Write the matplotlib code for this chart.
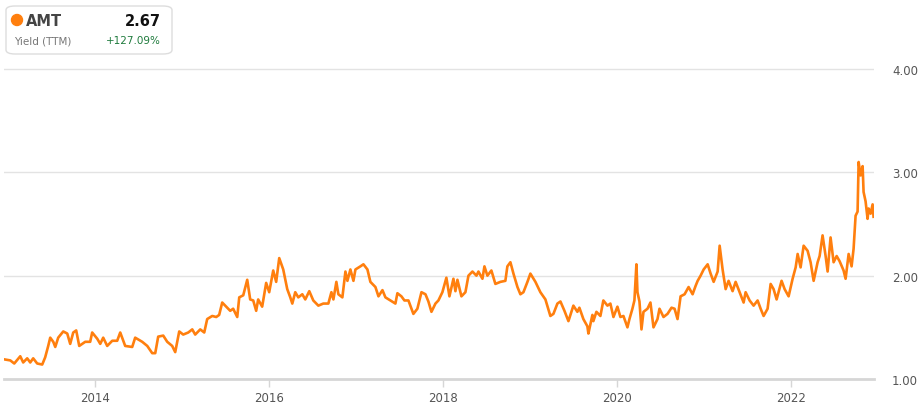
import numpy as np
import pandas as pd
import matplotlib
matplotlib.use('Agg')
import matplotlib.pyplot as plt
import matplotlib.dates as mdates
from matplotlib.patches import FancyBboxPatch, Ellipse

# ── data (decimal years, yield %) ────────────────────────────────────────────
years = [
    2012.953, 2013.022, 2013.068, 2013.137, 2013.171, 2013.217, 2013.252, 2013.286,
    2013.332, 2013.390, 2013.424, 2013.459, 2013.482, 2013.517, 2013.540, 2013.574,
    2013.632, 2013.678, 2013.712, 2013.747, 2013.781, 2013.816, 2013.885, 2013.942,
    2013.965, 2014.023, 2014.058, 2014.092, 2014.138, 2014.196, 2014.253, 2014.288,
    2014.345, 2014.426, 2014.460, 2014.541, 2014.599, 2014.656, 2014.691, 2014.725,
    2014.783, 2014.829, 2014.886, 2014.921, 2014.967, 2015.013, 2015.071, 2015.117,
    2015.151, 2015.209, 2015.255, 2015.289, 2015.347, 2015.393, 2015.427, 2015.462,
    2015.508, 2015.554, 2015.588, 2015.635, 2015.658, 2015.704, 2015.750, 2015.784,
    2015.819, 2015.853, 2015.876, 2015.922, 2015.968, 2016.003, 2016.049, 2016.083,
    2016.118, 2016.164, 2016.210, 2016.245, 2016.268, 2016.302, 2016.337, 2016.383,
    2016.417, 2016.463, 2016.509, 2016.567, 2016.624, 2016.682, 2016.717, 2016.740,
    2016.774, 2016.797, 2016.843, 2016.878, 2016.901, 2016.935, 2016.970, 2016.993,
    2017.050, 2017.085, 2017.131, 2017.165, 2017.223, 2017.258, 2017.304, 2017.338,
    2017.396, 2017.453, 2017.476, 2017.522, 2017.557, 2017.603, 2017.660, 2017.706,
    2017.753, 2017.799, 2017.833, 2017.868, 2017.914, 2017.948, 2017.994, 2018.040,
    2018.075, 2018.121, 2018.144, 2018.167, 2018.213, 2018.259, 2018.294, 2018.340,
    2018.386, 2018.409, 2018.455, 2018.478, 2018.512, 2018.558, 2018.604, 2018.662,
    2018.719, 2018.742, 2018.777, 2018.812, 2018.858, 2018.892, 2018.927, 2018.973,
    2019.007, 2019.065, 2019.122, 2019.180, 2019.237, 2019.272, 2019.318, 2019.353,
    2019.399, 2019.445, 2019.502, 2019.548, 2019.571, 2019.617, 2019.663, 2019.675,
    2019.721, 2019.732, 2019.767, 2019.813, 2019.847, 2019.894, 2019.928, 2019.963,
    2020.009, 2020.043, 2020.078, 2020.124, 2020.147, 2020.181, 2020.204, 2020.227,
    2020.239, 2020.262, 2020.285, 2020.308, 2020.354, 2020.388, 2020.423, 2020.469,
    2020.492, 2020.538, 2020.584, 2020.630, 2020.665, 2020.699, 2020.734, 2020.780,
    2020.826, 2020.872, 2020.906, 2020.930, 2020.964, 2020.999, 2021.045, 2021.079,
    2021.114, 2021.160, 2021.183, 2021.217, 2021.252, 2021.286, 2021.332, 2021.367,
    2021.413, 2021.459, 2021.482, 2021.528, 2021.574, 2021.620, 2021.655, 2021.689,
    2021.735, 2021.770, 2021.804, 2021.839, 2021.896, 2021.931, 2021.977, 2022.023,
    2022.058, 2022.081, 2022.115, 2022.150, 2022.196, 2022.230, 2022.265, 2022.311,
    2022.334, 2022.368, 2022.403, 2022.426, 2022.460, 2022.495, 2022.530, 2022.564,
    2022.610, 2022.633, 2022.668, 2022.702, 2022.725, 2022.748, 2022.771, 2022.783,
    2022.806, 2022.829, 2022.840, 2022.863, 2022.886, 2022.898, 2022.921, 2022.944,
    2022.955,
]
yield_ttm = [
    1.19, 1.18, 1.15, 1.22, 1.16, 1.20, 1.16, 1.20,
    1.15, 1.14, 1.21, 1.32, 1.40, 1.36, 1.31, 1.40,
    1.46, 1.44, 1.34, 1.45, 1.47, 1.32, 1.36, 1.36,
    1.45, 1.39, 1.34, 1.40, 1.32, 1.37, 1.37, 1.45,
    1.32, 1.31, 1.40, 1.36, 1.32, 1.25, 1.25, 1.41,
    1.42, 1.36, 1.32, 1.26, 1.46, 1.43, 1.45, 1.48,
    1.43, 1.48, 1.45, 1.58, 1.61, 1.60, 1.62, 1.74,
    1.70, 1.66, 1.68, 1.60, 1.79, 1.81, 1.96, 1.77,
    1.76, 1.66, 1.77, 1.70, 1.93, 1.84, 2.05, 1.94,
    2.17, 2.06, 1.87, 1.79, 1.73, 1.84, 1.79, 1.82,
    1.77, 1.85, 1.76, 1.71, 1.73, 1.73, 1.84, 1.77,
    1.94, 1.82, 1.79, 2.04, 1.95, 2.06, 1.95, 2.06,
    2.09, 2.11, 2.06, 1.94, 1.89, 1.80, 1.86, 1.79,
    1.76, 1.73, 1.83, 1.80, 1.76, 1.76, 1.63, 1.68,
    1.84, 1.82, 1.75, 1.65, 1.73, 1.76, 1.84, 1.98,
    1.80, 1.97, 1.85, 1.96, 1.80, 1.84, 2.00, 2.04,
    2.00, 2.04, 1.97, 2.09, 2.00, 2.05, 1.92, 1.94,
    1.95, 2.09, 2.13, 2.02, 1.89, 1.82, 1.84, 1.94,
    2.02, 1.94, 1.84, 1.77, 1.61, 1.63, 1.73, 1.75,
    1.66, 1.56, 1.71, 1.65, 1.69, 1.58, 1.51, 1.44,
    1.62, 1.56, 1.65, 1.61, 1.76, 1.71, 1.73, 1.60,
    1.70, 1.60, 1.61, 1.50, 1.58, 1.68, 1.76, 2.11,
    1.84, 1.75, 1.48, 1.65, 1.68, 1.74, 1.50, 1.58,
    1.68, 1.60, 1.63, 1.69, 1.68, 1.58, 1.80, 1.82,
    1.89, 1.82, 1.90, 1.95, 2.00, 2.06, 2.11, 2.02,
    1.94, 2.04, 2.29, 2.06, 1.87, 1.95, 1.85, 1.94,
    1.84, 1.74, 1.84, 1.76, 1.71, 1.76, 1.68, 1.61,
    1.68, 1.92, 1.87, 1.77, 1.95, 1.87, 1.80, 1.97,
    2.08, 2.21, 2.08, 2.29, 2.24, 2.13, 1.95, 2.13,
    2.19, 2.39, 2.19, 2.04, 2.37, 2.13, 2.19, 2.14,
    2.05, 1.97, 2.21, 2.09, 2.26, 2.58, 2.62, 3.10,
    2.97, 3.06, 2.81, 2.72, 2.55, 2.65, 2.60, 2.69,
    2.57,
]
y_ticks = [1.0, 2.0, 3.0, 4.0]
x_tick_years = [2014, 2016, 2018, 2020, 2022]

ticker_name = 'AMT'
last_value = '2.67'
sub_label = 'Yield (TTM)'
change_label = '+127.09%'


def to_date(y):
    yr = int(np.floor(y))
    start = pd.Timestamp(year=yr, month=1, day=1)
    end = pd.Timestamp(year=yr + 1, month=1, day=1)
    return start + (end - start) * (y - yr)


dates = [to_date(y) for y in years]
LINE = '#ff7f0e'

# ── figure ───────────────────────────────────────────────────────────────────
W, H = 921, 406
fig = plt.figure(figsize=(W / 100, H / 100), dpi=100)
ax = fig.add_axes([4 / W, 26 / H, 870 / W, 325.5 / H])

ax.plot(dates, yield_ttm, color=LINE, lw=1.9, solid_joinstyle='round', zorder=3)

ax.set_xlim(to_date(2012.95), to_date(2022.96))
ax.set_ylim(1.0, 4.15)

for s in ax.spines.values():
    s.set_visible(False)
ax.set_yticks(y_ticks)
ax.yaxis.tick_right()
ax.set_yticklabels([f'{v:.2f}' for v in y_ticks])
ax.tick_params(axis='y', length=0, pad=13, labelsize=8.5, labelcolor='#555555')
for v in y_ticks[1:]:
    ax.axhline(v, color='#e3e3e3', lw=1.0, zorder=1)
ax.axhline(1.0, color='#d6d6d6', lw=2.0, zorder=2, clip_on=False)

ax.set_xticks([pd.Timestamp(year=y, month=1, day=1) for y in x_tick_years])
ax.xaxis.set_major_formatter(mdates.DateFormatter('%Y'))
ax.tick_params(axis='x', length=6, width=1, color='#d6d6d6', pad=3,
               labelsize=8.5, labelcolor='#555555')

# ── legend box ───────────────────────────────────────────────────────────────
def fx(px):
    return px / W


def fy(py):
    return 1 - py / H


box = FancyBboxPatch((fx(6), fy(55)), fx(166), 48 / H,
                     boxstyle='round,pad=0,rounding_size=0.01',
                     transform=fig.transFigure, facecolor='white',
                     edgecolor='#dddddd', lw=1.0)
fig.add_artist(box)
fig.add_artist(Ellipse((fx(17), fy(21)), 11 / W, 11 / H,
                       transform=fig.transFigure, color=LINE))
fig.text(fx(26), fy(21), ticker_name, fontsize=10.5, fontweight='bold',
         color='#444444', va='center', ha='left')
fig.text(fx(161), fy(21), last_value, fontsize=10.5, fontweight='bold',
         color='#111111', va='center', ha='right')
fig.text(fx(14), fy(41), sub_label, fontsize=7.5, color='#777777',
         va='center', ha='left')
fig.text(fx(161), fy(41), change_label, fontsize=7.5, color='#1e7a3c',
         va='center', ha='right')

fig.savefig('out.png', dpi=100)
